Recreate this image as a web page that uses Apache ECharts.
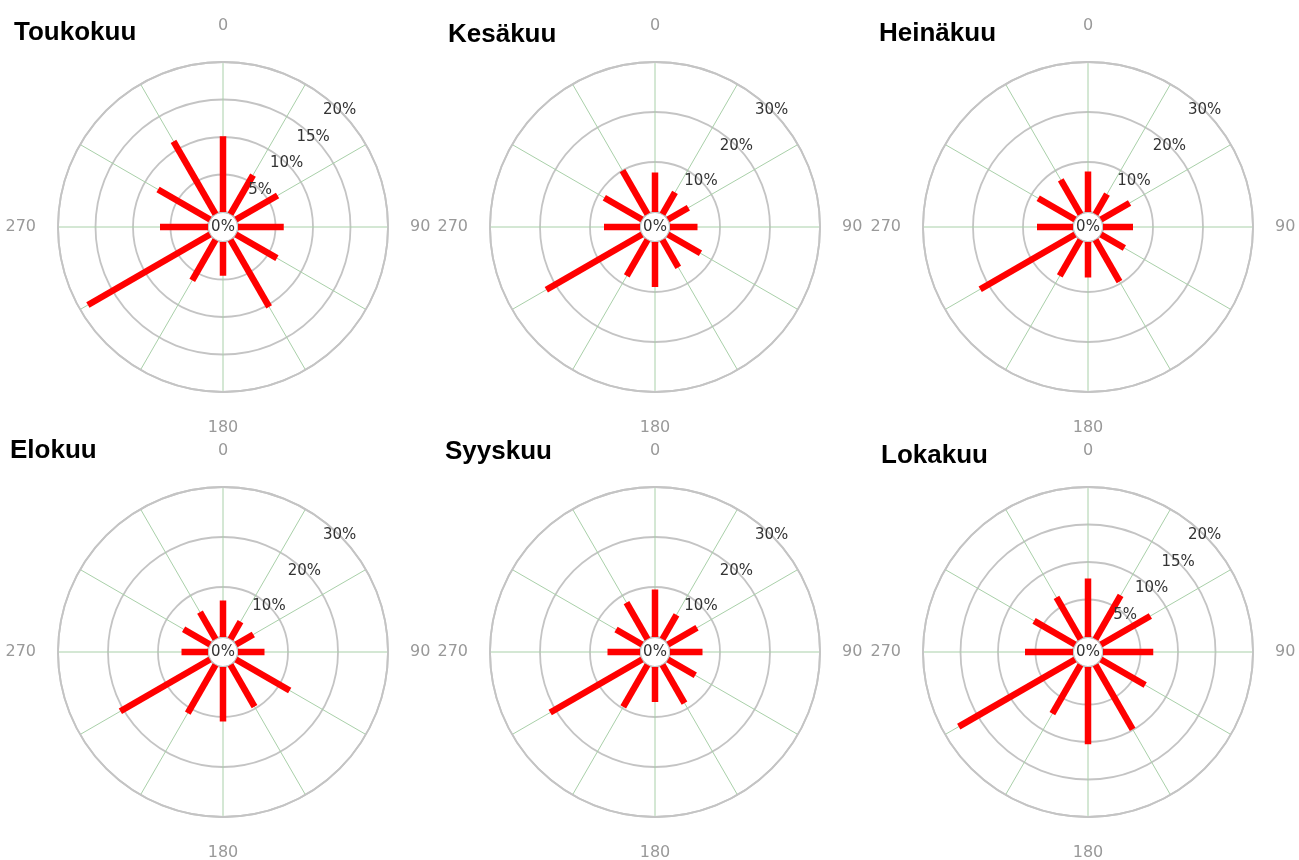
<!DOCTYPE html>
<html>
<head>
<meta charset="utf-8">
<title>Tuuliruusut</title>
<script src="https://cdn.jsdelivr.net/npm/echarts@6/dist/echarts.min.js"></script>
<style>
  html, body { margin: 0; padding: 0; background: #fff; }
  #chart { width: 1299px; height: 860px; }
</style>
</head>
<body>
<div id="chart"></div>
<script>
// kuukaudet ja suunnat (astetta, 0 = pohjoinen)
const months = ['Toukokuu', 'Kesäkuu', 'Heinäkuu', 'Elokuu', 'Syyskuu', 'Lokakuu']
const directions = [0, 30, 60, 90, 120, 150, 180, 210, 240, 270, 300, 330]
const compassLabels = [0, 90, 180, 270]

// tuulen suunnan osuus % per suunta
const toukokuu = [10.1, 6.0, 6.4, 6.1, 6.3, 10.3, 4.5, 6.2, 18.8, 6.4, 8.0, 11.2]
const kesakuu = [7.9, 5.0, 4.7, 5.5, 7.5, 6.3, 9.0, 8.3, 22.1, 7.2, 8.7, 10.0]
const heinakuu = [8.1, 4.6, 6.6, 6.0, 5.4, 9.6, 7.1, 8.3, 21.9, 7.2, 8.5, 7.9]
const elokuu = [7.3, 4.0, 4.0, 5.3, 12.4, 9.6, 10.9, 11.1, 20.7, 5.3, 6.1, 6.2]
const syyskuu = [9.5, 5.6, 6.7, 6.5, 6.3, 8.8, 7.0, 9.7, 21.2, 6.5, 6.0, 8.4]
const lokakuu = [7.8, 6.7, 7.6, 6.7, 6.8, 9.9, 10.3, 7.5, 17.9, 6.4, 6.3, 6.4]
const monthValues = [toukokuu, kesakuu, heinakuu, elokuu, syyskuu, lokakuu]

// säteittäisen akselin skaala (kehien arvot %)
const scaleMax = [20, 30, 30, 30, 30, 20]
const scaleStep = [5, 10, 10, 10, 10, 5]

// asettelu
const centers = [[223, 227], [655, 227], [1088, 227], [223, 652], [655, 652], [1088, 652]]
const titlePos = [[14, 33], [448, 35], [879, 34], [10, 451], [445, 452], [881, 456]]
const innerR = 15
const outerR = 165

const font = 'DejaVu Sans'

function renderBar(params, api) {
  const angle = api.value(1)
  const start = api.coord([0, angle])
  const end = api.coord([api.value(0), angle])
  return {
    type: 'line',
    shape: { x1: start[0], y1: start[1], x2: end[0], y2: end[1] },
    style: { stroke: '#ff0000', lineWidth: 6.5, lineCap: 'butt' }
  }
}

const polar = []
const angleAxis = []
const radiusAxis = []
const series = []
const graphic = []

months.forEach((name, i) => {
  // pääkoordinaatisto: kehät, suuntaviivat ja palkit
  polar.push({ center: centers[i], radius: [innerR, outerR] })
  angleAxis.push({
    polarIndex: 2 * i,
    type: 'value',
    min: 0,
    max: 360,
    interval: 30,
    startAngle: 90,
    clockwise: true,
    axisLine: { show: true, lineStyle: { color: '#c4c4c4', width: 1.8 } },
    axisTick: { show: false },
    axisLabel: {
      margin: 22,
      lineHeight: 28,
      color: '#999',
      fontFamily: font,
      fontSize: 16,
      formatter: v => (compassLabels.indexOf(v) >= 0 ? String(v) : '')
    },
    splitLine: { show: true, lineStyle: { color: '#a9d0a9', width: 1 } }
  })
  radiusAxis.push({
    polarIndex: 2 * i,
    type: 'value',
    min: 0,
    max: scaleMax[i],
    interval: scaleStep[i],
    axisLine: { show: false },
    axisTick: { show: false },
    axisLabel: { show: false },
    splitLine: { show: true, lineStyle: { color: '#c4c4c4', width: 1.8 } }
  })

  // toinen koordinaatisto vain prosenttiselitteitä varten (45° kulmassa)
  polar.push({ center: centers[i], radius: [innerR, outerR] })
  angleAxis.push({
    polarIndex: 2 * i + 1,
    type: 'value',
    min: 0,
    max: 360,
    startAngle: 45,
    axisLine: { show: false },
    axisTick: { show: false },
    axisLabel: { show: false },
    splitLine: { show: false }
  })
  radiusAxis.push({
    polarIndex: 2 * i + 1,
    type: 'value',
    min: 0,
    max: scaleMax[i],
    interval: scaleStep[i],
    axisLine: { show: false },
    axisTick: { show: false },
    splitLine: { show: false },
    axisLabel: {
      showMinLabel: false,
      margin: 0,
      align: 'center',
      verticalAlign: 'middle',
      color: '#333',
      fontFamily: font,
      fontSize: 15,
      formatter: '{value}%'
    },
    z: 5
  })

  series.push({
    name: name,
    type: 'custom',
    coordinateSystem: 'polar',
    polarIndex: 2 * i,
    renderItem: renderBar,
    data: monthValues[i].map((v, k) => [v, directions[k]]),
    z: 3
  })

  graphic.push({
    type: 'text',
    x: titlePos[i][0],
    y: titlePos[i][1],
    style: {
      text: name,
      font: 'bold 26px "Liberation Sans", Arial, sans-serif',
      fill: '#000',
      align: 'left',
      verticalAlign: 'middle'
    }
  })
  graphic.push({
    type: 'text',
    x: centers[i][0],
    y: centers[i][1],
    z: 10,
    style: {
      text: '0%',
      font: '15px "DejaVu Sans"',
      fill: '#333',
      align: 'center',
      verticalAlign: 'middle'
    }
  })
})

const chart = echarts.init(document.getElementById('chart'))
chart.setOption({
  backgroundColor: '#fff',
  animation: false,
  polar,
  angleAxis,
  radiusAxis,
  series,
  graphic
})
</script>
</body>
</html>
